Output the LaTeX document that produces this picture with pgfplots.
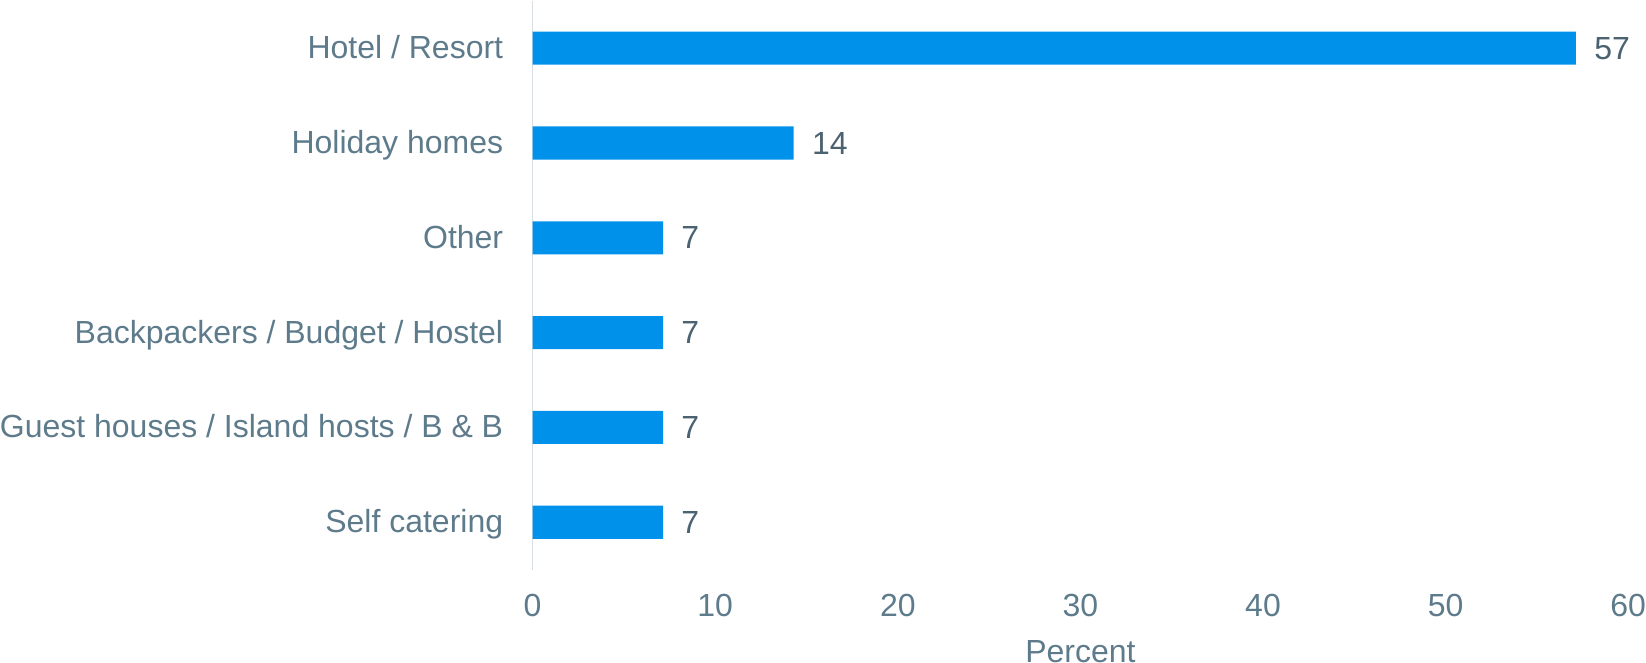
\documentclass[border=0pt]{standalone}
\usepackage{fontspec}
\setmainfont{Liberation Sans}
\usepackage{pgfplots}
\pgfplotsset{compat=1.18}
\definecolor{barblue}{HTML}{0091EA}
\definecolor{lblgray}{HTML}{5E7B8C}
\definecolor{valgray}{HTML}{4B6270}
\definecolor{axgray}{HTML}{D9DEE2}
\begin{document}
\begin{tikzpicture}
\begin{axis}[
  scale only axis, width=546bp, height=283.5bp,
  xbar, bar width=16.5bp, bar shift=0pt,
  xmin=0, xmax=60, ymin=-0.5, ymax=5.5,
  axis x line*=bottom, axis y line*=left,
  x axis line style={draw=none},
  y axis line style={draw=axgray, line width=0.8bp},
  major tick length=0pt, tick style={draw=none},
  xtick={0,10,...,60}, ytick={0,...,5},
  yticklabels={Self catering, Guest houses / Island hosts / B \& B, Backpackers / Budget / Hostel, Other, Holiday homes, Hotel / Resort},
  scaled x ticks=false,
  /pgf/number format/assume math mode=true,
  ticklabel style={font=\fontsize{16}{19}\selectfont, text=lblgray, inner sep=0pt},
  xticklabel style={anchor=north, yshift=-12bp},
  yticklabel style={anchor=base east, xshift=-14.5bp, yshift=-0.36em-1.6bp},
  xlabel={Percent},
  xlabel style={at={(axis description cs:0.5,0)}, anchor=north, yshift=-35bp, inner sep=0pt, font=\fontsize{16}{19}\selectfont, text=lblgray},
  nodes near coords={\pgfmathprintnumber[fixed,precision=0]{\pgfplotspointmeta}},
  nodes near coords style={anchor=west, inner sep=0pt, xshift=9bp, font=\fontsize{16}{19}\selectfont, text=valgray},
]
\addplot[fill=barblue, draw=none] coordinates {
  (7.14,0) (7.14,1) (7.14,2) (7.14,3) (14.29,4) (57.14,5)
};
\end{axis}
\end{tikzpicture}
\end{document}
